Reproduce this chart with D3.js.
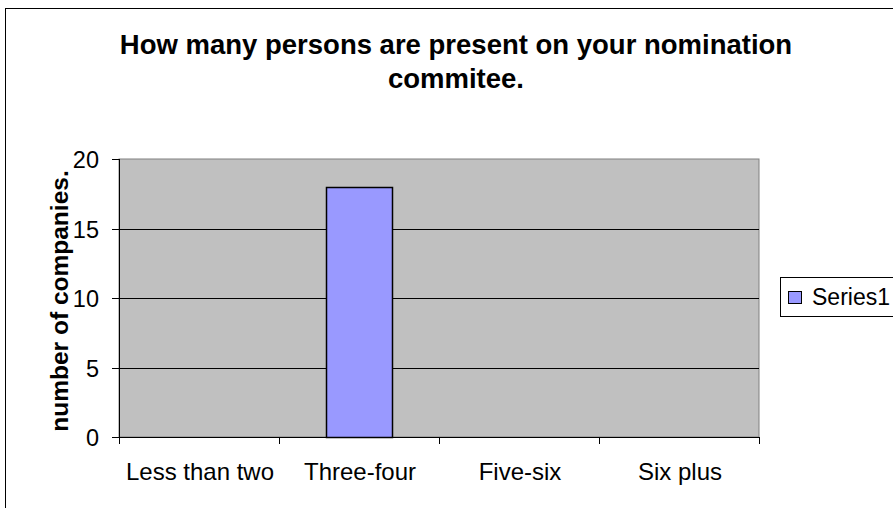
<!DOCTYPE html>
<html lang="en">
<head>
  <meta charset="UTF-8">
  <title>Nomination committee</title>
  <style>
    body { margin: 0; background: #fff; }
    text { font-family: 'Liberation Sans', Arial, sans-serif; }
  </style>
</head>
<body>

  <svg id="svg" width="893" height="508"></svg>

  <script src="https://d3js.org/d3.v7.min.js"></script>
  <script>
    const categories = ['Less than two', 'Three-four', 'Five-six', 'Six plus']
    const series1 = [0, 18, 0, 0]
    const yTicks = [0, 5, 10, 15, 20]
    const titleLines = ['How many persons are present on your nomination', 'commitee.']

    const plot = { left: 119, right: 759, top: 159, bottom: 437 }

    const svg = d3.select('#svg')

    // outer chart frame (runs off the right and bottom edge)
    svg.append('rect')
      .attr('x', 5.5).attr('y', 8.5)
      .attr('width', 1000).attr('height', 600)
      .attr('fill', '#fff')
      .attr('stroke', '#000')

    const yScale = d3.scaleLinear()
      .domain([0, 20])
      .range([plot.bottom, plot.top])

    // band without padding for the category ticks
    const xCat = d3.scaleBand()
      .domain(categories)
      .range([plot.left, plot.right])

    // band with Excel-like gap for the bars
    const xBar = d3.scaleBand()
      .domain(categories)
      .range([plot.left, plot.right])
      .paddingInner(0.5875)
      .paddingOuter(0.29375)

    // plot area
    svg.append('rect')
      .attr('x', plot.left).attr('y', plot.top)
      .attr('width', plot.right - plot.left)
      .attr('height', plot.bottom - plot.top)
      .attr('fill', '#c0c0c0')
      .attr('stroke', '#808080')

    // gridlines
    svg.append('g')
      .selectAll('line')
      .data(yTicks.filter(d => d > 0 && d < 20))
      .enter()
      .append('line')
      .attr('x1', plot.left).attr('x2', plot.right)
      .attr('y1', d => Math.round(yScale(d)) + 0.5)
      .attr('y2', d => Math.round(yScale(d)) + 0.5)
      .attr('stroke', '#000')

    // bars
    svg.append('g')
      .selectAll('rect')
      .data(categories.map((c, i) => ({ c, v: series1[i] })).filter(d => d.v > 0))
      .enter()
      .append('rect')
      .attr('x', d => Math.round(xBar(d.c)) + 0.5)
      .attr('y', d => Math.round(yScale(d.v)) + 0.5)
      .attr('width', Math.round(xBar.bandwidth()))
      .attr('height', d => Math.round(yScale(0)) - Math.round(yScale(d.v)))
      .attr('fill', '#9999ff')
      .attr('stroke', '#000')
      .attr('stroke-width', 1.5)

    // y axis
    const yAxis = svg.append('g')
    yAxis.append('line')
      .attr('x1', plot.left + 0.5).attr('x2', plot.left + 0.5)
      .attr('y1', plot.top).attr('y2', plot.bottom)
      .attr('stroke', '#000')
    const yt = yAxis.selectAll('g')
      .data(yTicks)
      .enter()
      .append('g')
      .attr('transform', d => `translate(0,${Math.round(yScale(d)) + 0.5})`)
    yt.append('line')
      .attr('x1', plot.left - 7).attr('x2', plot.left)
      .attr('stroke', '#000')
    yt.append('text')
      .text(d => d)
      .attr('x', 99)
      .attr('dy', '0.35em')
      .attr('text-anchor', 'end')
      .style('font-size', '23.5px')

    // x axis
    const xAxis = svg.append('g')
    xAxis.append('line')
      .attr('x1', plot.left).attr('x2', plot.right + 1)
      .attr('y1', plot.bottom + 0.5).attr('y2', plot.bottom + 0.5)
      .attr('stroke', '#000')
    xAxis.selectAll('line.tick')
      .data(categories.concat(['end']))
      .enter()
      .append('line')
      .attr('class', 'tick')
      .attr('x1', d => (d === 'end' ? plot.right : xCat(d)) + 0.5)
      .attr('x2', d => (d === 'end' ? plot.right : xCat(d)) + 0.5)
      .attr('y1', plot.bottom).attr('y2', plot.bottom + 7)
      .attr('stroke', '#000')
    xAxis.selectAll('text')
      .data(categories)
      .enter()
      .append('text')
      .text(d => d)
      .attr('x', d => xCat(d) + xCat.bandwidth() / 2 + 1)
      .attr('y', 480)
      .attr('text-anchor', 'middle')
      .style('font-size', '24px')

    // y axis title
    svg.append('text')
      .text('number of companies.')
      .attr('transform', `translate(68,${(plot.top + plot.bottom) / 2 + 3}) rotate(-90)`)
      .attr('text-anchor', 'middle')
      .style('font-size', '24.5px')
      .style('font-weight', 'bold')

    // chart title
    svg.append('g')
      .selectAll('text')
      .data(titleLines)
      .enter()
      .append('text')
      .text(d => d)
      .attr('x', 456)
      .attr('y', (d, i) => 54 + i * 34)
      .attr('text-anchor', 'middle')
      .style('font-size', '27.5px')
      .style('font-weight', 'bold')

    // legend
    const legend = svg.append('g')
    legend.append('rect')
      .attr('x', 780.5).attr('y', 277.5)
      .attr('width', 200).attr('height', 39)
      .attr('fill', '#fff')
      .attr('stroke', '#000')
    legend.append('rect')
      .attr('x', 788.5).attr('y', 291.5)
      .attr('width', 13).attr('height', 12)
      .attr('fill', '#9999ff')
      .attr('stroke', '#000')
    legend.append('text')
      .text('Series1')
      .attr('x', 812)
      .attr('y', 305)
      .style('font-size', '23px')
  </script>
</body>
</html>
